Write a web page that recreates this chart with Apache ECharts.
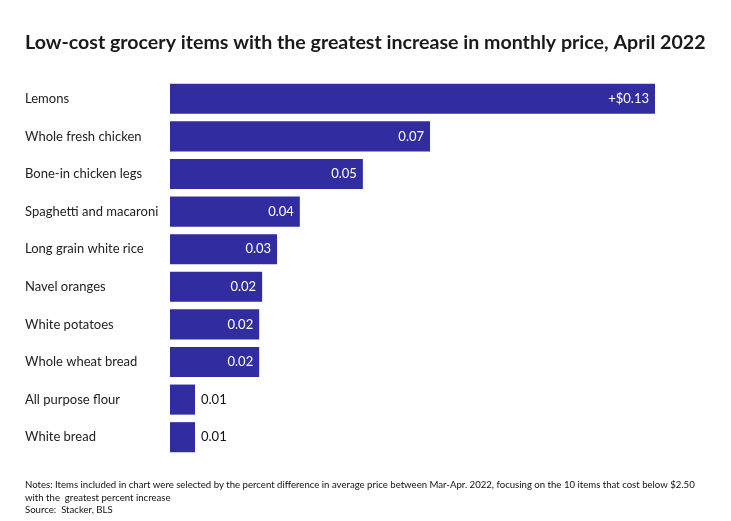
<!DOCTYPE html>
<html>
<head>
<meta charset="utf-8">
<script src="https://cdn.jsdelivr.net/npm/echarts@6/dist/echarts.min.js"></script>
<style>html,body{margin:0;padding:0;background:#fff;}#c{width:731px;height:521px;}</style>
</head>
<body>
<div id="c"></div>
<script>
const categories = ["Lemons","Whole fresh chicken","Bone-in chicken legs","Spaghetti and macaroni","Long grain white rice","Navel oranges","White potatoes","Whole wheat bread","All purpose flour","White bread"];
const values = [0.13,0.0697,0.0517,0.0348,0.0287,0.0247,0.0239,0.0239,0.0067,0.0067];
const valueLabels = ["+$0.13","0.07","0.05","0.04","0.03","0.02","0.02","0.02","0.01","0.01"];
const insideThreshold = 0.02;
const titleText = "Low-cost grocery items with the greatest increase in monthly price, April 2022";
const notesText = "Notes: Items included in chart were selected by the percent difference in average price between Mar-Apr. 2022, focusing on the 10 items that cost below $2.50\nwith the  greatest percent increase\nSource:  Stacker, BLS";

const FONT = "Lato";
const chart = echarts.init(document.getElementById('c'), null, {renderer:'canvas'});
chart.setOption({
  backgroundColor:'#ffffff',
  animation:false,
  title:{text:titleText,left:25,top:33,padding:0,textStyle:{fontFamily:FONT,fontSize:19.6,fontWeight:'bold',color:'#1a1a1a'}},
  grid:{left:170,right:76,top:80,bottom:65,containLabel:false},
  xAxis:{type:'value',min:0,max:0.13,show:false},
  yAxis:{type:'category',data:categories,inverse:true,
    axisLine:{show:false},axisTick:{show:false},splitLine:{show:false},
    axisLabel:{align:'left',margin:145,fontFamily:FONT,fontSize:13,color:'#222'}},
  series:[{type:'bar',data:values.map((v,i)=>({value:v,label:v>=insideThreshold?
      {position:'insideRight',color:'#fff',distance:6}:{position:'right',color:'#111',distance:6}})),
    barCategoryGap:'20%',
    itemStyle:{color:'#312DA0'},
    label:{show:true,fontFamily:FONT,fontSize:13,formatter:p=>valueLabels[p.dataIndex]}}],
  graphic:[{type:'text',left:25,top:479,style:{text:notesText,font:'9.6px '+FONT,fill:'#111',lineHeight:12.5}}]
});
</script>
</body>
</html>
